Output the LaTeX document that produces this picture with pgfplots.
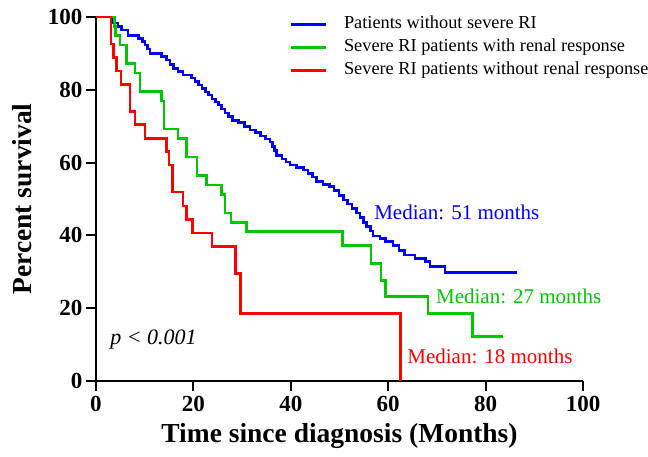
\documentclass[border=0pt]{standalone}
\usepackage{pgfplots}
\pgfplotsset{compat=1.18}
\usepackage{fontspec}
\setmainfont{Liberation Serif}
\definecolor{kmblue}{RGB}{0,0,255}
\definecolor{kmgreen}{RGB}{0,200,0}
\definecolor{kmred}{RGB}{255,0,0}
\begin{document}
\begin{tikzpicture}
\begin{axis}[
  at={(0pt,0pt)}, anchor=south west,
  scale only axis, width=487pt, height=364pt,
  xmin=0, xmax=100, ymin=0, ymax=100,
  axis lines=left,
  axis line style={-, line width=2pt, black},
  xtick={0,20,40,60,80,100}, ytick={0,20,40,60,80,100},
  tick align=outside, major tick length=10pt,
  tick style={line width=2pt, black},
  /pgf/number format/assume math mode=true,
  ticklabel style={font=\fontsize{23}{23}\selectfont\bfseries},
  xticklabel style={yshift=-2pt},
  xlabel={Time since diagnosis (Months)},
  ylabel={Percent survival},
  xlabel style={at={(axis description cs:0.5,-0.151)}, anchor=center, font=\fontsize{27.5}{28}\selectfont\bfseries},
  ylabel style={at={(axis description cs:-0.152,0.5)}, anchor=center, font=\fontsize{27.5}{28}\selectfont\bfseries},
  clip=false,
  legend cell align=left,
  legend image code/.code={\draw[#1] (0pt,0pt) -- (35pt,0pt);},
  legend image post style={line width=3pt},
  legend style={
    at={(axis cs:39.6,100.3)}, anchor=north west,
    draw=none, fill=none, inner sep=0pt,
    font=\fontsize{18.3}{18}\selectfont,
    nodes={inner sep=0pt, text height=12.5pt, text depth=4pt},
    row sep=6.5pt,
    /tikz/every odd column/.append style={column sep=17pt},
  },
]
\addplot[const plot, color=kmblue, line width=2.6pt] coordinates {
(0,100) (3.5,98.3) (4.5,97.4) (5.2,96.4) (6.6,95.0) (8.7,94.1) (9.5,93.2)
(10.1,92.3) (10.6,91.2) (11.1,90.0) (13.5,89.1) (14.5,88.2) (15.2,87.0)
(15.9,85.9) (16.8,85.0) (17.9,84.1) (19.6,83.2) (20.3,82.2) (21.0,81.3)
(21.8,80.3) (22.5,79.4) (23.1,78.6) (23.8,77.5) (24.5,76.6) (25.1,75.8)
(25.8,74.7) (26.5,73.6) (27.2,72.6) (28.0,71.6) (29.2,71.0) (30.5,70.0)
(31.6,69.0) (32.8,68.2) (33.8,67.3) (34.8,66.5) (35.7,65.7) (36.3,64.5)
(36.7,63.3) (37.1,62.0) (38.2,61.0) (39.0,60.2) (39.8,59.3) (41.2,58.6)
(42.6,58.0) (43.5,57.0) (44.4,56.0) (45.3,54.8) (46.6,54.0) (48.0,53.4)
(48.9,52.3) (49.9,51.0) (50.8,49.7) (51.7,48.6) (52.6,47.4) (53.5,46.1)
(54.2,44.9) (54.9,43.6) (55.6,42.4) (56.4,41.2) (56.9,39.8) (58.3,39.1)
(59.5,38.4) (61.0,37.2) (62.2,35.9) (63.4,34.6) (65.5,33.7) (67.6,32.8)
(68.6,31.4) (71.7,29.8) (86.5,29.8)
};
\addlegendentry{Patients without severe RI}
\addplot[const plot, color=kmgreen, line width=2.6pt] coordinates {
(0,100) (3.8,97.4) (4.0,94.9) (4.9,92.3) (6.3,87.2) (8.0,84.6) (9.0,79.5)
(13.5,76.9) (14.0,69.2) (16.8,66.7) (18.6,61.5) (20.7,56.4) (22.7,53.8)
(25.8,51.3) (26.5,46.2) (27.7,43.6) (30.9,41.0) (50.6,37.2) (56.5,32.3)
(58.5,27.6) (59.5,23.2) (68.2,18.6) (77.3,12.2) (83.5,12.2)
};
\addlegendentry{Severe RI patients with renal response}
\addplot[const plot, color=kmred, line width=2.6pt] coordinates {
(0,100) (3.1,92.6) (3.6,88.9) (4.2,85.2) (5.1,81.5) (7.0,74.1) (8.0,70.4)
(10.1,66.7) (14.5,63.0) (15.0,59.3) (15.7,51.9) (17.9,48.1) (18.6,44.4)
(19.8,40.7) (23.8,37.0) (28.7,29.6) (29.7,18.5) (62.5,18.5) (62.5,0)
};
\addlegendentry{Severe RI patients without renal response}
\node[anchor=west, text=kmblue, font=\fontsize{21}{21}\selectfont, inner sep=0pt] at (axis cs:57.1,46.4) {Median: 51 months};
\node[anchor=west, text=kmgreen, font=\fontsize{21}{21}\selectfont, inner sep=0pt] at (axis cs:69.8,23.2) {Median: 27 months};
\node[anchor=west, text=kmred, font=\fontsize{21}{21}\selectfont, inner sep=0pt] at (axis cs:63.9,6.7) {Median: 18 months};
\node[anchor=west, font=\fontsize{22}{22}\selectfont\itshape, inner sep=0pt] at (axis cs:2.9,11.5) {p < 0.001};
\end{axis}
\pgfresetboundingbox
\useasboundingbox (-96pt,-75pt) rectangle (552pt,381pt);
\end{tikzpicture}
\end{document}
